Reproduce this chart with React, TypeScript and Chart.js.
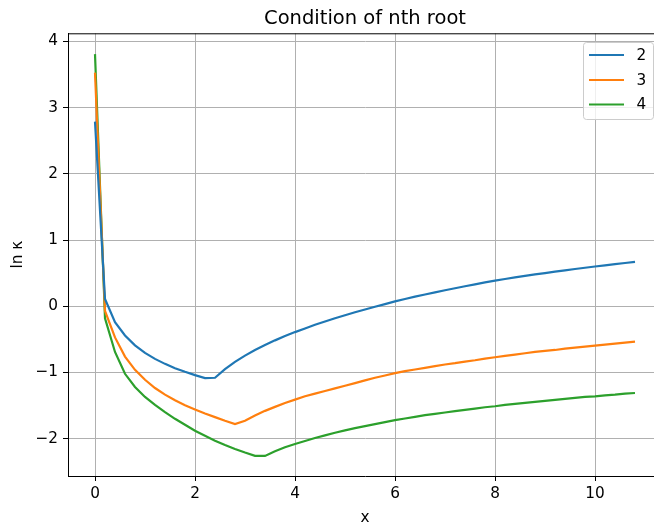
import React, { useEffect, useRef } from "react";
import { Chart, registerables } from "chart.js";

Chart.register(...registerables);

const xValues = [
  0, 0.2, 0.4, 0.6, 0.8, 1.0, 1.2, 1.4, 1.6, 1.8, 2.0, 2.2, 2.4, 2.6, 2.8, 3.0, 3.2, 3.4, 3.6, 3.8,
  4.0, 4.2, 4.4, 4.6, 4.8, 5.0, 5.2, 5.4, 5.6, 5.8, 6.0, 6.2, 6.4, 6.6, 6.8, 7.0, 7.2, 7.4, 7.6, 7.8,
  8.0, 8.2, 8.4, 8.6, 8.8, 9.0, 9.2, 9.4, 9.6, 9.8, 10.0, 10.2, 10.4, 10.6, 10.8,
];

const series2 = [
  2.79, 0.11, -0.24, -0.44, -0.59, -0.705, -0.795, -0.87, -0.935, -0.99, -1.04, -1.085, -1.08, -0.95, -0.84, -0.745, -0.66, -0.585, -0.515, -0.45,
  -0.39, -0.335, -0.28, -0.23, -0.18, -0.135, -0.09, -0.048, -0.007, 0.033, 0.075, 0.11, 0.145, 0.178, 0.21, 0.242, 0.273, 0.303, 0.332, 0.36,
  0.387, 0.412, 0.436, 0.459, 0.481, 0.502, 0.523, 0.543, 0.563, 0.582, 0.601, 0.619, 0.637, 0.654, 0.671,
];

const series3 = [
  3.53, -0.07, -0.47, -0.76, -0.96, -1.11, -1.235, -1.335, -1.42, -1.495, -1.56, -1.62, -1.675, -1.73, -1.78, -1.73, -1.65, -1.58, -1.52, -1.46,
  -1.41, -1.36, -1.32, -1.28, -1.24, -1.2, -1.16, -1.12, -1.08, -1.045, -1.01, -0.98, -0.955, -0.93, -0.905, -0.88, -0.86, -0.835, -0.815, -0.79,
  -0.77, -0.75, -0.73, -0.71, -0.69, -0.675, -0.66, -0.64, -0.625, -0.61, -0.595, -0.58, -0.565, -0.55, -0.535,
];

const series4 = [
  3.81, -0.18, -0.69, -1.02, -1.22, -1.37, -1.49, -1.6, -1.7, -1.79, -1.88, -1.955, -2.03, -2.095, -2.155, -2.21, -2.26, -2.26, -2.19, -2.13,
  -2.08, -2.035, -1.99, -1.95, -1.91, -1.875, -1.84, -1.81, -1.78, -1.75, -1.72, -1.695, -1.67, -1.645, -1.625, -1.605, -1.585, -1.565, -1.545, -1.525,
  -1.51, -1.49, -1.475, -1.46, -1.445, -1.43, -1.415, -1.4, -1.385, -1.37, -1.36, -1.345, -1.335, -1.32, -1.31,
];

const seriesLabels = ["2", "3", "4"];
const seriesColors = ["#1f77b4", "#ff7f0e", "#2ca02c"];
const xTicks = [0, 2, 4, 6, 8, 10];
const yTicks = [-2, -1, 0, 1, 2, 3, 4];
const titleText = "Condition of nth root";
const xLabel = "x";
const yLabel = "ln \u03ba";

const FONT = "'DejaVu Sans', sans-serif";
const TICK_SIZE = 15.3;
const TITLE_SIZE = 19.5;

const fmt = (v: number) => (v < 0 ? "\u2212" + Math.abs(v) : String(v));

const decorPlugin = {
  id: "decor",
  afterDraw(chart: any) {
    const { ctx, chartArea } = chart;
    ctx.save();
    // top spine
    ctx.strokeStyle = "#000";
    ctx.lineWidth = 1;
    ctx.beginPath();
    ctx.moveTo(chartArea.left, chartArea.top + 0.5);
    ctx.lineTo(chartArea.right, chartArea.top + 0.5);
    ctx.stroke();
    // title
    ctx.fillStyle = "#000";
    ctx.font = `${TITLE_SIZE}px ${FONT}`;
    ctx.textAlign = "center";
    ctx.textBaseline = "alphabetic";
    ctx.fillText(titleText, (chartArea.left + chartArea.right) / 2, 24);
    // legend
    const bx = 583.5, by = 42.5, bw = 70, bh = 77, r = 3;
    ctx.fillStyle = "rgba(255,255,255,0.8)";
    ctx.strokeStyle = "#cccccc";
    ctx.lineWidth = 1;
    ctx.beginPath();
    ctx.moveTo(bx + r, by);
    ctx.lineTo(bx + bw - r, by);
    ctx.arcTo(bx + bw, by, bx + bw, by + r, r);
    ctx.lineTo(bx + bw, by + bh - r);
    ctx.arcTo(bx + bw, by + bh, bx + bw - r, by + bh, r);
    ctx.lineTo(bx + r, by + bh);
    ctx.arcTo(bx, by + bh, bx, by + bh - r, r);
    ctx.lineTo(bx, by + r);
    ctx.arcTo(bx, by, bx + r, by, r);
    ctx.closePath();
    ctx.fill();
    ctx.stroke();
    const rows = [55, 80, 104.5];
    chart.data.datasets.forEach((ds: any, i: number) => {
      const y = rows[i];
      ctx.strokeStyle = ds.borderColor;
      ctx.lineWidth = 2.2;
      ctx.beginPath();
      ctx.moveTo(589, y);
      ctx.lineTo(624, y);
      ctx.stroke();
      ctx.fillStyle = "#000";
      ctx.font = `${TICK_SIZE}px ${FONT}`;
      ctx.textAlign = "left";
      ctx.textBaseline = "middle";
      ctx.fillText(ds.label, 636.5, y + 1);
    });
    ctx.restore();
  },
};

export default function App() {
  const ref = useRef<HTMLCanvasElement | null>(null);
  useEffect(() => {
    document.body.style.margin = "0";
    document.body.style.overflow = "hidden";
    const canvas = ref.current;
    if (!canvas) return;
    const allSeries = [series2, series3, series4];
    const chart = new Chart(canvas, {
      type: "line",
      data: {
        datasets: allSeries.map((s, i) => ({
          label: seriesLabels[i],
          data: xValues.map((x, j) => ({ x, y: s[j] })),
          borderColor: seriesColors[i],
          backgroundColor: seriesColors[i],
          borderWidth: 2.2,
          pointRadius: 0,
          tension: 0,
          fill: false,
        })),
      },
      options: {
        animation: false,
        responsive: false,
        devicePixelRatio: 1,
        layout: { padding: { top: 33.3, right: 8, left: 0, bottom: 0 } },
        plugins: {
          legend: { display: false },
          title: { display: false },
          tooltip: { enabled: false },
        },
        scales: {
          x: {
            type: "linear",
            min: -0.54,
            max: 11.34,
            afterFit: (s: any) => {
              s.height = 47;
            },
            afterBuildTicks: (s: any) => {
              s.ticks = xTicks.map((v) => ({ value: v }));
            },
            grid: {
              color: "#b0b0b0",
              lineWidth: 1,
              tickColor: "#000",
              tickLength: 5,
              drawTicks: true,
            },
            border: { color: "#000", width: 1 },
            ticks: {
              color: "#000",
              padding: 4,
              font: { family: FONT, size: TICK_SIZE },
              callback: (v: any) => fmt(Number(v)),
              maxRotation: 0,
              autoSkip: false,
            },
            title: {
              display: true,
              text: xLabel,
              color: "#000",
              font: { family: FONT, size: TICK_SIZE },
              padding: { top: 0, bottom: -4 },
            },
          },
          y: {
            type: "linear",
            min: -2.564,
            max: 4.124,
            afterFit: (s: any) => {
              s.width = 68;
            },
            afterBuildTicks: (s: any) => {
              s.ticks = yTicks.map((v) => ({ value: v }));
            },
            grid: {
              color: "#b0b0b0",
              lineWidth: 1,
              tickColor: "#000",
              tickLength: 5,
              drawTicks: true,
            },
            border: { color: "#000", width: 1 },
            ticks: {
              color: "#000",
              padding: 5,
              font: { family: FONT, size: TICK_SIZE },
              callback: (v: any) => fmt(Number(v)),
              autoSkip: false,
            },
            title: {
              display: true,
              text: yLabel,
              color: "#000",
              font: { family: FONT, size: TICK_SIZE },
              padding: { top: 9, bottom: 0 },
            },
          },
        },
      },
      plugins: [decorPlugin],
    });
    return () => chart.destroy();
  }, []);
  return <canvas ref={ref} width={670} height={523} style={{ display: "block" }} />;
}
